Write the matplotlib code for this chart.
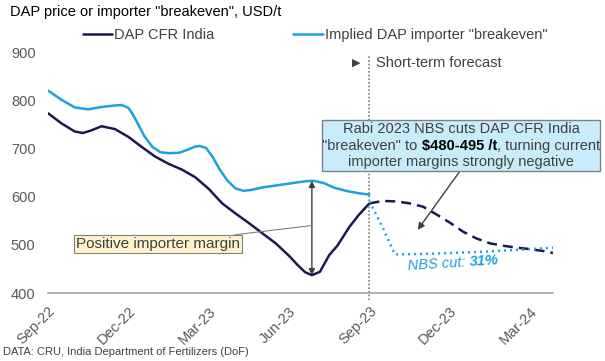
import numpy as np
import matplotlib
matplotlib.use("Agg")
import matplotlib.pyplot as plt
import matplotlib.transforms as mtransforms
from matplotlib.patches import Rectangle

# months since Sep-22 (x) and USD/t (y)
cfr_months = [0.0, 0.5, 1.0, 1.3, 1.6, 2.0, 2.5, 3.0, 3.5, 4.0, 4.5, 5.0, 5.5, 6.0,
              6.5, 7.0, 7.5, 8.0, 8.5, 9.0, 9.3, 9.6, 9.85, 10.15, 10.5, 10.8, 11.25,
              11.6, 12.0]
cfr_india = [773, 752, 735, 732, 737, 746, 740, 724, 703, 683, 668, 656, 640, 616,
             586, 565, 545, 524, 503, 477, 459, 443, 437, 444, 479, 498, 537, 562, 586]

be_months = [0.0, 0.5, 1.0, 1.5, 2.0, 2.5, 2.75, 3.0, 3.15, 3.3, 3.6, 3.9, 4.2, 4.5,
             4.9, 5.2, 5.45, 5.65, 5.9, 6.15, 6.4, 6.7, 7.0, 7.3, 7.6, 8.0, 8.5, 9.0,
             9.5, 9.9, 10.3, 10.7, 11.2, 11.6, 12.0]
breakeven = [820, 801, 785, 781, 786, 789, 790, 784, 772, 757, 725, 703, 692, 690,
             691, 697, 703, 705, 701, 682, 657, 633, 617, 612, 614, 619, 623, 627,
             631, 633, 628, 618, 611, 607, 604]

fc_months = [12.0, 12.5, 13.0, 13.5, 14.0, 14.5, 15.0, 15.5, 16.0, 16.5, 17.0, 17.5,
             18.0, 18.5, 18.85]
cfr_forecast = [586, 591, 590, 586, 579, 563, 546, 527, 513, 503, 498, 494, 491, 487, 483]

nbs_months = [12.0, 12.5, 12.95, 14.0, 15.0, 16.0, 17.0, 18.0, 18.85]
nbs_breakeven = [590, 535, 480, 481, 483, 485, 488, 491, 494]

tick_months = [0, 3, 6, 9, 12, 15, 18]
tick_labels = ["Sep-22", "Dec-22", "Mar-23", "Jun-23", "Sep-23", "Dec-23", "Mar-24"]
forecast_start = 12

DARK = "#1c1a4c"
LIGHT = "#1ea0e0"
GREY = "#404040"

plt.rcParams["font.family"] = ["Liberation Sans", "DejaVu Sans"]

W, H = 605, 361
fig = plt.figure(figsize=(W / 100, H / 100), dpi=100)


def fpx(x, y):
    return (x / W, 1 - y / H)


ax = fig.add_axes([48 / W, 1 - 293 / H, (553 - 48) / W, (293 - 52) / H])

l1, = ax.plot(cfr_months, cfr_india, color=DARK, lw=1.8, solid_capstyle="round",
              solid_joinstyle="round")
l2, = ax.plot(be_months, breakeven, color=LIGHT, lw=1.8, solid_capstyle="round",
              solid_joinstyle="round")
ax.plot(fc_months, cfr_forecast, color=DARK, lw=1.8, ls=(0, (4, 2.4)))
ax.plot(nbs_months, nbs_breakeven, color=LIGHT, lw=1.8, ls=(0, (0.8, 1.6)))

ax.set_xlim(0, 18.85)
ax.set_ylim(400, 900)
ax.set_yticks([400, 500, 600, 700, 800, 900])
ax.set_xticks(tick_months)
ax.set_xticklabels(tick_labels, rotation=45, ha="right", rotation_mode="anchor")
ax.tick_params(length=0, labelsize=10.5, colors="#595959", pad=8)
ax.tick_params(axis="y", pad=9)
for s in ["top", "right", "left"]:
    ax.spines[s].set_visible(False)
ax.spines["bottom"].set_color("#a6a6a6")
ax.spines["bottom"].set_linewidth(1.2)

# forecast divider
ax.plot([forecast_start, forecast_start], [385, 894], color="#808080", lw=1.2,
        ls=(0, (1, 1.2)), clip_on=False, zorder=1)
fig.text(*fpx(352, 63), "\u25B6", fontsize=8, color=GREY, va="center",
         family="DejaVu Sans")
fig.text(*fpx(376, 63), "Short-term forecast", fontsize=10.5, color=GREY, va="center")

# margin arrow
i_min = int(np.argmin(cfr_india))
m_min = cfr_months[i_min]
top = np.interp(m_min, be_months, breakeven)
ax.annotate("", xy=(m_min, top), xytext=(m_min, cfr_india[i_min]),
            arrowprops=dict(arrowstyle="<|-|>", color=GREY, lw=1, mutation_scale=9,
                            shrinkA=0, shrinkB=0))
ax.annotate("Positive importer margin", xy=(m_min, 540), xycoords="data",
            xytext=fpx(158, 244), textcoords="figure fraction",
            ha="center", va="center", fontsize=11, color=GREY,
            bbox=dict(boxstyle="square,pad=0.12", fc="#fff2cc", ec="#808080", lw=0.8),
            arrowprops=dict(arrowstyle="-", color="#808080", lw=0.8, shrinkA=0, shrinkB=0))

# NBS callout box
x0, y0 = fpx(322, 171)
x1, y1 = fpx(600, 120)
fig.patches.append(Rectangle((x0, y0), x1 - x0, y1 - y0, transform=fig.transFigure,
                             fc="#c9ecfb", ec="#808080", lw=1, zorder=5))
cx = 461
fig.text(*fpx(cx, 129), "Rabi 2023 NBS cuts DAP CFR India", ha="center", va="center",
         fontsize=10.5, color=GREY, zorder=6)
fig.text(*fpx(cx, 162), "importer margins strongly negative", ha="center", va="center",
         fontsize=10.5, color=GREY, zorder=6)
parts = [('"breakeven" to ', "normal", GREY), (r"\$480-495 /t", "bold", "#000000"),
         (", turning current", "normal", GREY)]
r = fig.canvas.get_renderer()
texts = [fig.text(0, 0, p, fontsize=10.5, fontweight=w, color=c, va="center", zorder=6)
         for p, w, c in parts]
widths = [t.get_window_extent(r).width for t in texts]
xs = cx - sum(widths) / 2
for t, wd in zip(texts, widths):
    t.set_position(fpx(xs, 146))
    xs += wd

ax.annotate("", xy=(13.8, 531), xycoords="data", xytext=fpx(460, 171),
            textcoords="figure fraction",
            arrowprops=dict(arrowstyle="-|>", color=GREY, lw=1, mutation_scale=10,
                            shrinkA=0, shrinkB=0))

# "NBS cut: 31%" slightly tilted, bold percentage
ang = 3.5
t_a = ax.text(13.43, 448, "NBS cut: ", fontsize=10.5, style="italic", color=LIGHT,
              ha="left", va="baseline")
wa = t_a.get_window_extent(r).width
t_a.set_rotation(ang)
t_a.set_rotation_mode("anchor")
off = mtransforms.offset_copy(ax.transData, fig=fig, units="dots",
                              x=wa * np.cos(np.radians(ang)),
                              y=wa * np.sin(np.radians(ang)))
ax.text(13.43, 448, "31%", fontsize=10.5, style="italic", weight="bold", color=LIGHT,
        ha="left", va="baseline", rotation=ang, rotation_mode="anchor", transform=off)

# title, legend, source
fig.text(*fpx(10, 12), 'DAP price or importer "breakeven", USD/t', fontsize=10.5,
         color="#000000", va="center")
fig.legend([l1, l2], ["DAP CFR India", 'Implied DAP importer "breakeven"'],
           loc="center left", bbox_to_anchor=fpx(83, 35), ncol=2, frameon=False,
           fontsize=10.5, handlelength=2.0, handletextpad=0.15, columnspacing=5.4,
           borderpad=0, borderaxespad=0, labelcolor=GREY)
fig.text(*fpx(3, 352), "DATA: CRU, India Department of Fertilizers (DoF)", fontsize=8,
         color=GREY, va="center")

fig.savefig("out.png", dpi=100)
